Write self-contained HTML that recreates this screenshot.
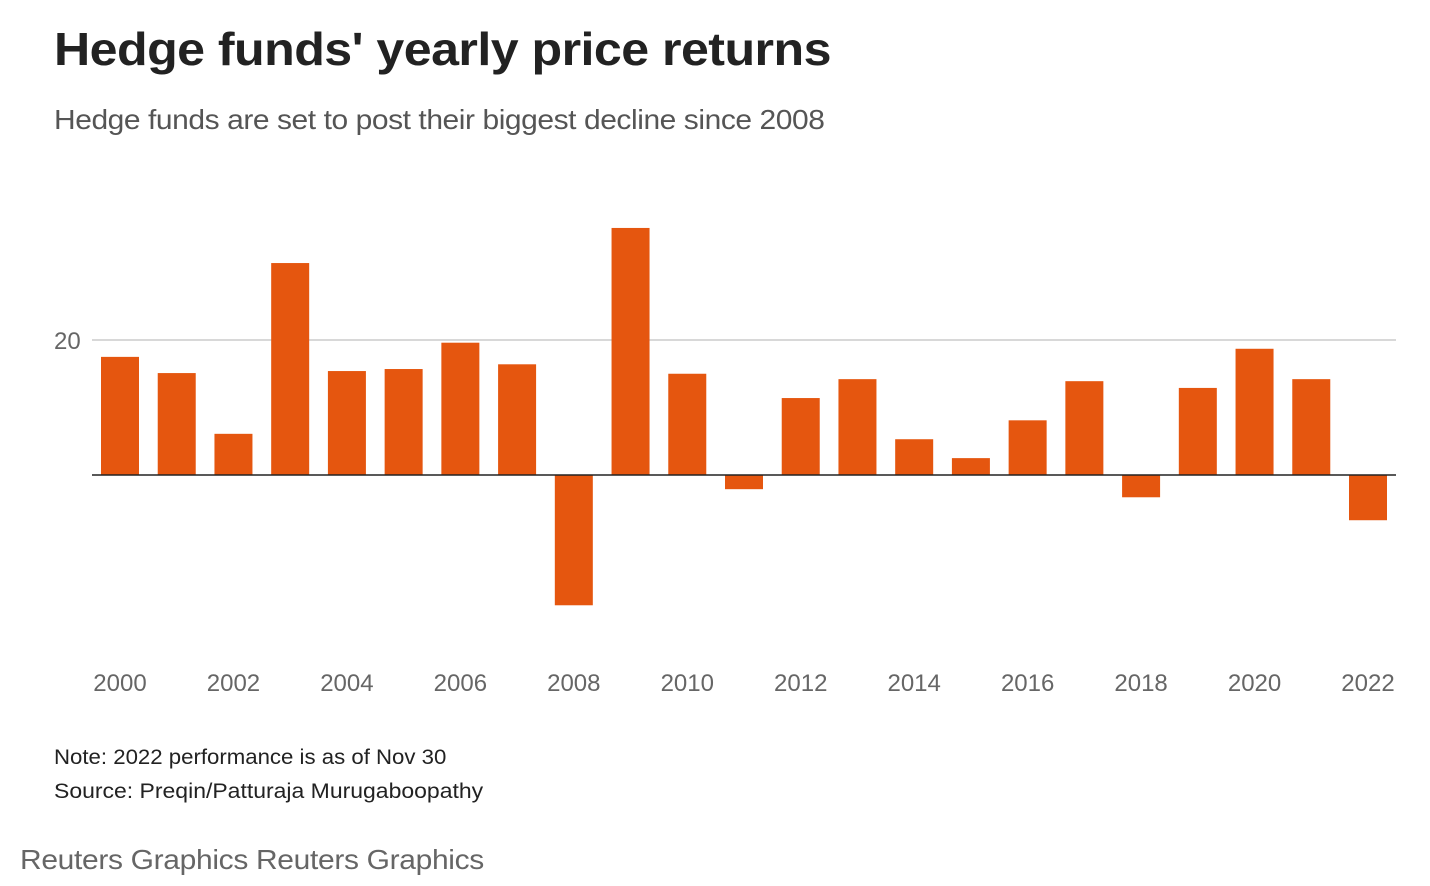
<!DOCTYPE html>
<html><head><meta charset="utf-8">
<style>
body{margin:0;width:1430px;height:886px;background:#fff;font-family:"Liberation Sans",sans-serif;overflow:hidden;position:relative}
.t{position:absolute;white-space:nowrap;transform-origin:0 0}
</style></head><body>
<div class="t" style="left:54px;top:22px;font-size:46px;font-weight:bold;color:#222;letter-spacing:-0.5px;transform:scaleX(1.09)">Hedge funds' yearly price returns</div>
<div class="t" style="left:54px;top:104px;font-size:28px;color:#555;letter-spacing:-0.4px;transform:scaleX(1.07)">Hedge funds are set to post their biggest decline since 2008</div>
<svg id="chart" width="1430" height="886" style="position:absolute;left:0;top:0"></svg>
<div class="t" style="left:54px;top:746px;font-size:21px;color:#222;transform:scaleX(1.057)">Note: 2022 performance is as of Nov 30</div>
<div class="t" style="left:54px;top:780px;font-size:21px;color:#222;transform:scaleX(1.094)">Source: Preqin/Patturaja Murugaboopathy</div>
<div class="t" style="left:20px;top:844px;font-size:28px;color:#666;letter-spacing:-0.3px;transform:scaleX(1.07)">Reuters Graphics Reuters Graphics</div>
<script>
const years=[2000,2001,2002,2003,2004,2005,2006,2007,2008,2009,2010,2011,2012,2013,2014,2015,2016,2017,2018,2019,2020,2021,2022];
const returns=[17.5,15.1,6.1,31.4,15.4,15.7,19.6,16.4,-19.3,36.6,15.0,-2.1,11.4,14.2,5.3,2.5,8.1,13.9,-3.3,12.9,18.7,14.2,-6.7];
const yTicks=[20];
const xLabels=[2000,2002,2004,2006,2008,2010,2012,2014,2016,2018,2020,2022];
const svg=document.getElementById('chart');const NS='http://www.w3.org/2000/svg';
const x=v=>120+(v-2000)*(1368-120)/22;
const y=v=>475-v*6.75;
function mk(t,a){const e=document.createElementNS(NS,t);for(const k in a)e.setAttribute(k,a[k]);svg.appendChild(e);return e;}
yTicks.forEach(t=>{
 const l=mk('line',{x1:92,x2:1396,y1:y(t),y2:y(t),stroke:'#ccc','stroke-width':1.5});
 
 
 const tx=mk('text',{x:54,y:y(t)+9,'font-size':24,fill:'#666','font-family':'Liberation Sans, sans-serif'});
 tx.textContent=t;
 
 
});
years.forEach((yr,i)=>{
 const v=returns[i];
 const r=mk('rect',{x:x(yr)-19,width:38,y:Math.min(y(v),y(0)),height:Math.abs(y(v)-y(0)),fill:'#e5560f'});
 
 
});
const ax=mk('line',{x1:92,x2:1396,y1:y(0),y2:y(0),stroke:'#222','stroke-width':1.5});


xLabels.forEach(yr=>{
 const tx=mk('text',{x:x(yr),y:691,'font-size':24,fill:'#666','text-anchor':'middle','font-family':'Liberation Sans, sans-serif'});
 tx.textContent=yr;
 
 
});
</script>
</body></html>
